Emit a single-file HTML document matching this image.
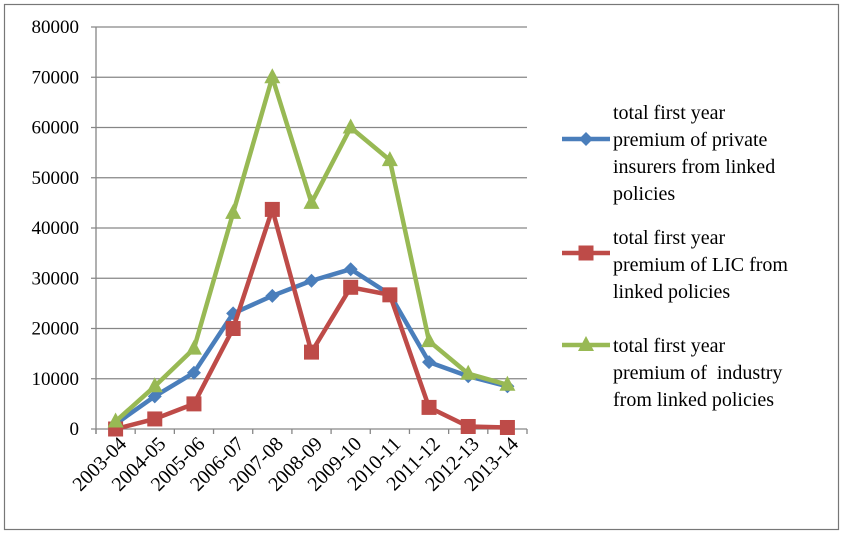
<!DOCTYPE html>
<html><head><meta charset="utf-8"><style>
body{margin:0;background:#fff}
svg text{font-family:"Liberation Serif",serif;fill:#000}
</style></head><body>
<svg width="843" height="534" xmlns="http://www.w3.org/2000/svg" font-family="Liberation Serif, serif">
<rect x="4.5" y="4.5" width="834" height="525" fill="#fff" stroke="#777" stroke-width="1.2"/>
<g id="grid"></g><g id="series"></g><g id="legend"></g>
</svg>
<script>
const categories=["2003-04","2004-05","2005-06","2006-07","2007-08","2008-09","2009-10","2010-11","2011-12","2012-13","2013-14"];
const privateVals=[1000,6500,11200,23000,26500,29500,31800,26800,13300,10500,8500];
const licVals=[0,2000,5000,20000,43700,15300,28200,26700,4300,500,300];
const industryVals=[1500,8500,16000,43000,70000,45000,60000,53500,17500,11000,8800];
const yTicks=[0,10000,20000,30000,40000,50000,60000,70000,80000];
const NS="http://www.w3.org/2000/svg";
const FF="Liberation Serif, serif";
const x0=96,x1=527,y0=429,y1=27,yMax=80000;
const bw=(x1-x0)/categories.length;
const X=i=>x0+bw*(i+0.5);
const Y=v=>y0-(v/yMax)*(y0-y1);
function mk(t,a,p){const e=document.createElementNS(NS,t);for(const k in a)e.setAttribute(k,a[k]);p.appendChild(e);return e;}
const g=document.getElementById('grid');
yTicks.forEach(v=>{
 const l=mk('line',{x1:x0-5,x2:x1,y1:Y(v),y2:Y(v),stroke:'#868686','stroke-width':1.3},g);
 
 
 const t=mk('text',{x:x0-17,y:Y(v)+6,'text-anchor':'end','font-size':19,'font-family':FF},g);t.textContent=v;
 
 
});
const ax=mk('line',{x1:x0,x2:x0,y1:y1,y2:y0+5,stroke:'#868686','stroke-width':1.3},g);


for(let i=0;i<=categories.length;i++){const tk=mk('line',{x1:x0+bw*i,x2:x0+bw*i,y1:y0,y2:y0+5,stroke:'#868686','stroke-width':1.3},g);
 
 }
categories.forEach((c,i)=>{
 const t=mk('text',{x:X(i)+12,y:y0+16,'text-anchor':'end','font-size':20,'font-family':FF,transform:`rotate(-45 ${X(i)+12} ${y0+16})`},g);t.textContent=c;
 
 
});
const S=document.getElementById('series');
const series=[[privateVals,'#4a7ebb','diamond'],[licVals,'#be4b48','square'],[industryVals,'#98b954','triangle']];
function marker(type,cx,cy,col,p){
 let e;
 if(type==='diamond')e=mk('polygon',{points:`${cx},${cy-7} ${cx+7},${cy} ${cx},${cy+7} ${cx-7},${cy}`,fill:col},p);
 else if(type==='square')e=mk('rect',{x:cx-7.5,y:cy-7.5,width:15,height:15,fill:col},p);
 else e=mk('polygon',{points:`${cx},${cy-9} ${cx+8},${cy+6} ${cx-8},${cy+6}`,fill:col},p);
 return e;
}
series.forEach(([vals,col,type],si)=>{
 const pl=mk('polyline',{points:vals.map((v,i)=>X(i)+','+Y(v)).join(' '),fill:'none',stroke:col,'stroke-width':4.5,'stroke-linejoin':'round'},S);
 
 
 vals.forEach((v,i)=>{const m=marker(type,X(i),Y(v),col,S);
  
  });
});
const L=document.getElementById('legend');
const legend=[[['total first year','premium of private','insurers from linked','policies'],112],[['total first year','premium of LIC from','linked policies'],237],[['total first year','premium of\u00a0 industry','from linked policies'],345]];
legend.forEach(([lines,ly],i)=>{
 const [_,col,type]=series[i];
 const my=[139,253,345][i];
 const ln=mk('line',{x1:562,x2:610,y1:my,y2:my,stroke:col,'stroke-width':4.5},L);
 
 
 const m=marker(type,586,my,col,L);
 
 
 const t=mk('text',{x:613,y:ly+7,'font-size':20,'font-family':FF},L);
 
 
 lines.forEach((s,k)=>{const ts=mk('tspan',{x:613,dy:k?27:0},t);ts.textContent=s;});
});
</script>
</body></html>
